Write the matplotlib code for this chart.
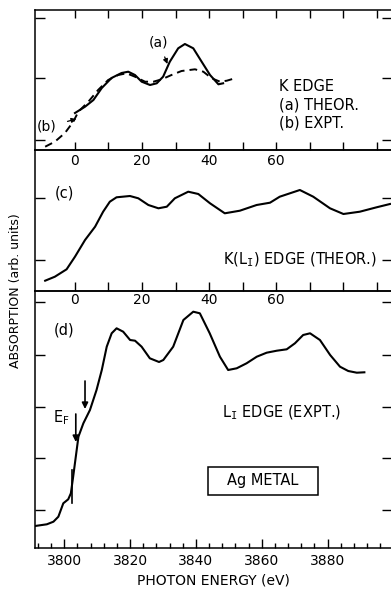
import numpy as np
import matplotlib
matplotlib.use('Agg')
import matplotlib.pyplot as plt
from matplotlib.patches import Rectangle
from matplotlib.ticker import MultipleLocator, FixedLocator

plt.rcParams['font.family'] = ['DejaVu Sans']

W, H = 391, 589

# K edge: (a) theory, (b) experiment  (energy relative to edge, eV)
ka_e = [0, 3.0, 5.5, 8.0, 10.9, 13.9, 15.9, 17.9, 19.9, 22.4, 24.4, 26.3, 28.3,
        30.8, 32.8, 35.3, 37.8, 40.3, 42.8, 44.2]
ka_mu = [37, 43.3, 50, 62, 72, 77, 78.3, 75, 68.3, 65, 66.7, 73.3, 88.3,
         101.7, 106, 101.7, 88.3, 75, 65.7, 66.7]
kb_e = [-8.9, -6.0, -3.0, -0.5, 1.0, 4.0, 6.9, 9.9, 12.9, 15.4, 17.9, 20.9, 23.4,
        25.9, 28.8, 31.8, 35.8, 38.3, 40.8, 43.3, 45.3, 47.7]
kb_mu = [3.3, 8.3, 17, 28.3, 38.3, 48.3, 60, 70, 75, 76.7, 73.3, 68.3, 68.3,
         70.7, 75, 79, 80.7, 78.3, 71.7, 68.3, 69.3, 71.7]

# K(L_I) edge, theory
kl_e = [-8.9, -6.0, -2.5, 0, 3.0, 6.0, 8.4, 10.4, 12.4, 16.4, 18.9, 21.9, 24.9,
        27.4, 29.8, 33.8, 36.8, 40.3, 44.7, 49.2, 54.2, 58.2, 61.1, 67.1, 71.1,
        76.1, 80.1, 85.0, 90.0, 94.0]
kl_mu = [10.3, 14.3, 21.7, 34.3, 51, 64.3, 79.3, 89.3, 93.7, 95, 92.7, 86, 82.7,
         84.3, 92.7, 99.3, 97, 87.7, 77.7, 80.3, 86, 88.3, 94.3, 101, 94.3,
         82.7, 77, 79.3, 83.7, 87]

# L_I edge, experiment (photon energy, eV)
l1_e = [3791.1, 3794.7, 3796.7, 3798.2, 3799.7, 3801.2, 3802.0, 3802.7, 3803.5,
        3804.3, 3805.8, 3807.8, 3809.8, 3811.4, 3812.9, 3814.4, 3815.9, 3817.9,
        3820.0, 3821.5, 3823.5, 3826.0, 3828.8, 3830.1, 3833.1, 3836.2, 3839.2,
        3841.2, 3844.2, 3847.3, 3849.8, 3852.4, 3855.4, 3858.5, 3861.5, 3864.6,
        3867.6, 3870.1, 3872.6, 3874.7, 3877.7, 3880.8, 3883.8, 3886.3, 3888.9,
        3891.2]
l1_mu = [22, 23.7, 26.3, 31.3, 44.7, 48.7, 54.7, 71.3, 91.3, 111.3, 124.7, 138,
         158, 178, 201.3, 214.7, 219.7, 216.3, 208, 207.3, 201.3, 189.7, 186, 188,
         201.3, 228, 236.3, 234.7, 214.7, 191.3, 178, 179.7, 184.7, 191.3, 195.3,
         197.3, 198.7, 204.7, 213, 214.7, 208, 193, 181.3, 177, 175.3, 175.7]

rel_ticks = list(range(0, 100, 10))
rel_labels = ['0', '', '20', '', '40', '', '60', '', '', '']

SUB_I = r'$_{\mathtt{I}}$'


def fx(x):
    return x / W


def fy(y):
    return 1 - y / H


def panel(top, bottom):
    left, right = 35, 392
    return fig.add_axes([fx(left), fy(bottom), (right - left) / W, (bottom - top) / H])


fig = plt.figure(figsize=(W / 100, H / 100), dpi=100)

ax1 = panel(10, 150)
ax2 = panel(150, 291)
ax3 = panel(291, 548)

for ax in (ax1, ax2, ax3):
    ax.set_facecolor('none')
    for s in ax.spines.values():
        s.set_linewidth(1.1)

lw = 1.5

# top panel
ax1.plot(ka_e, ka_mu, color='k', lw=lw)
ax1.plot(kb_e, kb_mu, color='k', lw=1.4, ls=(0, (4, 2.6)))
ax1.set_xlim(-11.93, 94.6)
ax1.set_ylim(0, 140)
ax1.set_xticks(rel_ticks)
ax1.set_xticklabels(rel_labels, fontsize=10)
ax1.set_yticks([132, 72, 10])
ax1.set_yticklabels([])
ax1.tick_params(axis='x', direction='in', top=True, length=6, width=1, pad=3)
ax1.tick_params(axis='y', direction='in', right=True, length=7, width=1)

ax1.annotate('(a)', xy=(27.6, 86), xytext=(25.0, 108), ha='center', va='center',
             fontsize=10, arrowprops=dict(arrowstyle='-|>', color='k', lw=0.9,
                                          mutation_scale=7, shrinkA=4, shrinkB=0))
ax1.annotate('(b)', xy=(0.4, 31), xytext=(-8.4, 23), ha='center', va='center',
             fontsize=10, arrowprops=dict(arrowstyle='-|>', color='k', lw=0.9,
                                          mutation_scale=7, shrinkA=6, shrinkB=0))
for txt, y in [('K EDGE', 87), ('(a) THEOR.', 105), ('(b) EXPT.', 123)]:
    fig.text(fx(279), fy(y), txt, fontsize=10.5, ha='left', va='center')

# middle panel
ax2.plot(kl_e, kl_mu, color='k', lw=lw)
ax2.set_xlim(-11.93, 94.6)
ax2.set_ylim(0, 141)
ax2.set_xticks(rel_ticks)
ax2.set_xticklabels(rel_labels, fontsize=10)
ax2.set_yticks([93, 31])
ax2.set_yticklabels([])
ax2.tick_params(axis='x', direction='in', length=6.5, width=1, pad=1.5)
ax2.tick_params(axis='y', direction='in', right=True, length=7, width=1)
fig.text(fx(64), fy(193), '(c)', fontsize=10.5, ha='center', va='center')
fig.text(fx(223), fy(260), 'K(L' + SUB_I + ') EDGE (THEOR.)', fontsize=10.5,
         ha='left', va='center')

# bottom panel
ax3.plot(l1_e, l1_mu, color='k', lw=lw)
ax3.set_xlim(3791.1, 3899.6)
ax3.set_ylim(0, 257)
ax3.xaxis.set_major_locator(FixedLocator([3800, 3820, 3840, 3860, 3880]))
ax3.xaxis.set_minor_locator(MultipleLocator(4))
ax3.set_yticks([246, 193, 141, 90, 38])
ax3.set_yticklabels([])
ax3.tick_params(axis='x', which='major', direction='in', length=6.5, width=1,
                labelsize=10, pad=4)
ax3.tick_params(axis='x', which='minor', direction='in', length=3.5, width=1)
ax3.tick_params(axis='y', direction='in', right=True, length=7, width=1)
ax3.set_xlabel('PHOTON ENERGY (eV)', fontsize=10, labelpad=4)

arrow = dict(arrowstyle='-|>', color='k', lw=1.2, mutation_scale=9, shrinkA=0, shrinkB=0)
ax3.annotate('', xy=(3803.5, 106), xytext=(3803.5, 134), arrowprops=arrow)
ax3.annotate('', xy=(3806.3, 139), xytext=(3806.3, 167), arrowprops=arrow)
ax3.plot([3802.4, 3802.4], [45, 78], color='k', lw=1.2)
fig.text(fx(61), fy(418), r'E$_{\mathrm{F}}$', fontsize=10.5, ha='center', va='center')
fig.text(fx(64), fy(330), '(d)', fontsize=10.5, ha='center', va='center')
fig.text(fx(222), fy(413), 'L' + SUB_I + ' EDGE (EXPT.)', fontsize=10.5,
         ha='left', va='center')

# sample label in a frame
fig.patches.append(Rectangle((fx(208), fy(495)), 110 / W, 28 / H, transform=fig.transFigure,
                             fill=False, ec='k', lw=1.1))
fig.text(fx(263), fy(481), 'Ag METAL', fontsize=10.5, ha='center', va='center')

fig.text(fx(16), fy(291), 'ABSORPTION (arb. units)', fontsize=9, rotation=90,
         ha='center', va='center')

fig.savefig('out.png', dpi=100)
